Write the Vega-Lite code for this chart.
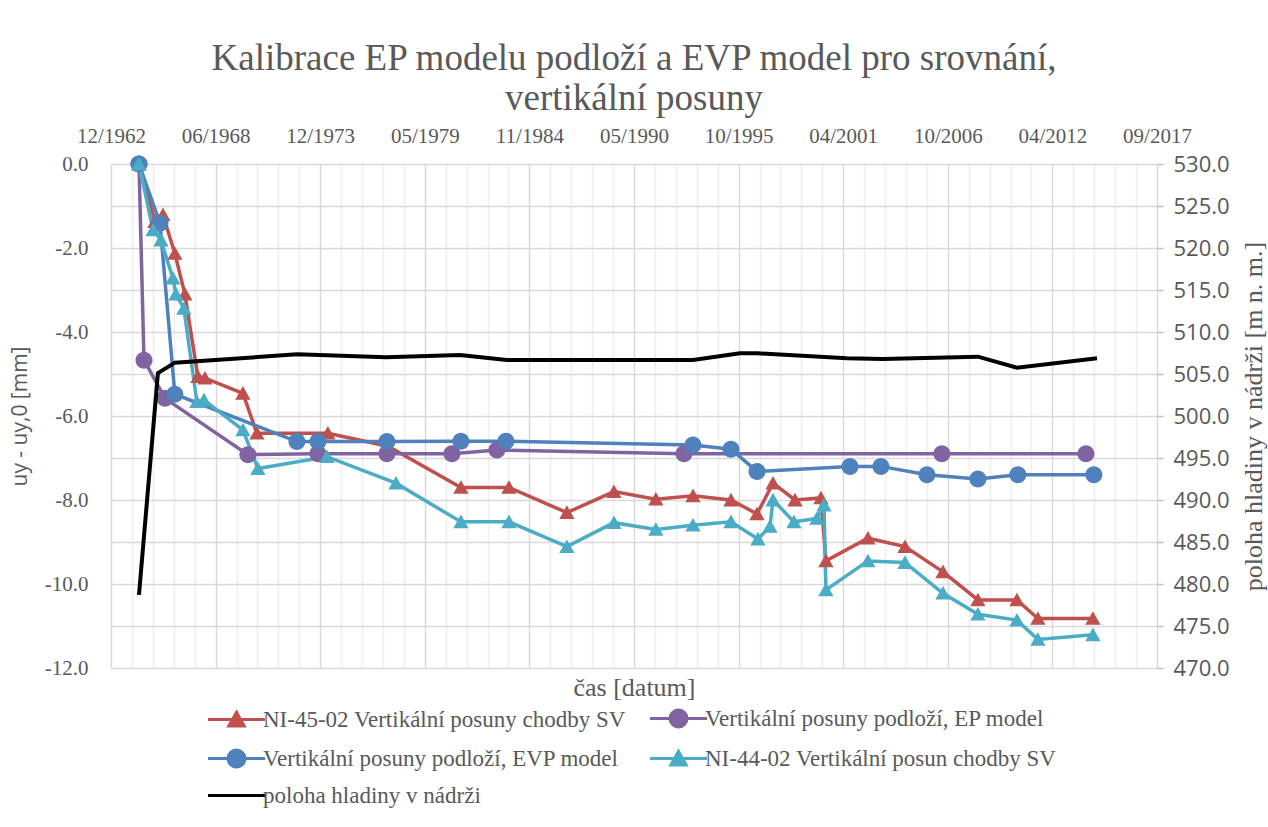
{
  "$schema": "https://vega.github.io/schema/vega-lite/v6.json",
  "width": 1046,
  "height": 504,
  "autosize": "none",
  "padding": {"left": 111, "top": 164, "right": 111, "bottom": 159},
  "background": "white",
  "title": {
    "text": ["Kalibrace EP modelu podloží a EVP model pro srovnání,", "vertikální posuny"],
    "font": "Liberation Serif",
    "fontSize": 37,
    "fontWeight": "normal",
    "color": "#595959",
    "anchor": "middle",
    "lineHeight": 40,
    "offset": 7
  },
  "config": {
    "view": {"stroke": null},
    "axis": {
      "labelFont": "Liberation Serif",
      "labelFontSize": 20,
      "labelColor": "#595959",
      "titleFont": "Liberation Serif",
      "titleFontSize": 26,
      "titleColor": "#595959",
      "titleFontWeight": "normal"
    }
  },
  "data": {
    "values": [
      {"series": "NI-45-02 Vertikální posuny chodby SV", "date": "1964-06-09", "value": 0},
      {"series": "NI-45-02 Vertikální posuny chodby SV", "date": "1965-04-10", "value": -1.37},
      {"series": "NI-45-02 Vertikální posuny chodby SV", "date": "1965-09-10", "value": -1.21},
      {"series": "NI-45-02 Vertikální posuny chodby SV", "date": "1966-04-26", "value": -2.13},
      {"series": "NI-45-02 Vertikální posuny chodby SV", "date": "1966-11-04", "value": -3.1},
      {"series": "NI-45-02 Vertikální posuny chodby SV", "date": "1967-07-10", "value": -5.06},
      {"series": "NI-45-02 Vertikální posuny chodby SV", "date": "1967-11-22", "value": -5.1},
      {"series": "NI-45-02 Vertikální posuny chodby SV", "date": "1969-11-17", "value": -5.46},
      {"series": "NI-45-02 Vertikální posuny chodby SV", "date": "1970-08-12", "value": -6.41},
      {"series": "NI-45-02 Vertikální posuny chodby SV", "date": "1974-04-30", "value": -6.41},
      {"series": "NI-45-02 Vertikální posuny chodby SV", "date": "1977-06-21", "value": -6.72},
      {"series": "NI-45-02 Vertikální posuny chodby SV", "date": "1981-04-17", "value": -7.7},
      {"series": "NI-45-02 Vertikální posuny chodby SV", "date": "1983-10-22", "value": -7.7},
      {"series": "NI-45-02 Vertikální posuny chodby SV", "date": "1986-11-03", "value": -8.3},
      {"series": "NI-45-02 Vertikální posuny chodby SV", "date": "1989-04-20", "value": -7.8},
      {"series": "NI-45-02 Vertikální posuny chodby SV", "date": "1991-07-01", "value": -7.98},
      {"series": "NI-45-02 Vertikální posuny chodby SV", "date": "1993-06-10", "value": -7.9},
      {"series": "NI-45-02 Vertikální posuny chodby SV", "date": "1995-06-06", "value": -8.0},
      {"series": "NI-45-02 Vertikální posuny chodby SV", "date": "1996-10-16", "value": -8.33},
      {"series": "NI-45-02 Vertikální posuny chodby SV", "date": "1997-08-18", "value": -7.6},
      {"series": "NI-45-02 Vertikální posuny chodby SV", "date": "1998-10-12", "value": -8.0},
      {"series": "NI-45-02 Vertikální posuny chodby SV", "date": "2000-02-20", "value": -7.95},
      {"series": "NI-45-02 Vertikální posuny chodby SV", "date": "2000-05-26", "value": -9.45},
      {"series": "NI-45-02 Vertikální posuny chodby SV", "date": "2002-08-07", "value": -8.91},
      {"series": "NI-45-02 Vertikální posuny chodby SV", "date": "2004-07-16", "value": -9.11},
      {"series": "NI-45-02 Vertikální posuny chodby SV", "date": "2006-07-12", "value": -9.71},
      {"series": "NI-45-02 Vertikální posuny chodby SV", "date": "2008-05-10", "value": -10.38},
      {"series": "NI-45-02 Vertikální posuny chodby SV", "date": "2010-05-26", "value": -10.38},
      {"series": "NI-45-02 Vertikální posuny chodby SV", "date": "2011-07-01", "value": -10.82},
      {"series": "NI-45-02 Vertikální posuny chodby SV", "date": "2014-05-18", "value": -10.82},

      {"series": "Vertikální posuny podloží, EP model", "date": "1964-06-09", "value": 0},
      {"series": "Vertikální posuny podloží, EP model", "date": "1964-09-13", "value": -4.67},
      {"series": "Vertikální posuny podloží, EP model", "date": "1965-10-19", "value": -5.58},
      {"series": "Vertikální posuny podloží, EP model", "date": "1970-02-21", "value": -6.92},
      {"series": "Vertikální posuny podloží, EP model", "date": "1973-10-22", "value": -6.9},
      {"series": "Vertikální posuny podloží, EP model", "date": "1977-06-02", "value": -6.9},
      {"series": "Vertikální posuny podloží, EP model", "date": "1980-10-27", "value": -6.9},
      {"series": "Vertikální posuny podloží, EP model", "date": "1983-03-07", "value": -6.81},
      {"series": "Vertikální posuny podloží, EP model", "date": "1992-12-19", "value": -6.9},
      {"series": "Vertikální posuny podloží, EP model", "date": "2006-06-21", "value": -6.9},
      {"series": "Vertikální posuny podloží, EP model", "date": "2014-01-05", "value": -6.9},

      {"series": "Vertikální posuny podloží, EVP model", "date": "1964-06-09", "value": 0},
      {"series": "Vertikální posuny podloží, EVP model", "date": "1965-07-15", "value": -1.41},
      {"series": "Vertikální posuny podloží, EVP model", "date": "1966-04-26", "value": -5.48},
      {"series": "Vertikální posuny podloží, EVP model", "date": "1972-09-15", "value": -6.61},
      {"series": "Vertikální posuny podloží, EVP model", "date": "1973-10-22", "value": -6.61},
      {"series": "Vertikální posuny podloží, EVP model", "date": "1977-06-02", "value": -6.61},
      {"series": "Vertikální posuny podloží, EVP model", "date": "1981-04-17", "value": -6.6},
      {"series": "Vertikální posuny podloží, EVP model", "date": "1983-08-25", "value": -6.6},
      {"series": "Vertikální posuny podloží, EVP model", "date": "1993-06-10", "value": -6.69},
      {"series": "Vertikální posuny podloží, EVP model", "date": "1995-06-06", "value": -6.79},
      {"series": "Vertikální posuny podloží, EVP model", "date": "1996-10-16", "value": -7.32},
      {"series": "Vertikální posuny podloží, EVP model", "date": "2001-08-29", "value": -7.2},
      {"series": "Vertikální posuny podloží, EVP model", "date": "2003-04-13", "value": -7.2},
      {"series": "Vertikální posuny podloží, EVP model", "date": "2005-09-09", "value": -7.4},
      {"series": "Vertikální posuny podloží, EVP model", "date": "2008-05-10", "value": -7.5},
      {"series": "Vertikální posuny podloží, EVP model", "date": "2010-06-13", "value": -7.4},
      {"series": "Vertikální posuny podloží, EVP model", "date": "2014-06-05", "value": -7.4},

      {"series": "NI-44-02 Vertikální posun chodby SV", "date": "1964-06-09", "value": 0},
      {"series": "NI-44-02 Vertikální posun chodby SV", "date": "1965-03-04", "value": -1.57},
      {"series": "NI-44-02 Vertikální posun chodby SV", "date": "1965-08-03", "value": -1.81},
      {"series": "NI-44-02 Vertikální posun chodby SV", "date": "1966-03-19", "value": -2.72},
      {"series": "NI-44-02 Vertikální posun chodby SV", "date": "1966-05-16", "value": -3.1},
      {"series": "NI-44-02 Vertikální posun chodby SV", "date": "1966-10-15", "value": -3.44},
      {"series": "NI-44-02 Vertikální posun chodby SV", "date": "1967-06-21", "value": -5.66},
      {"series": "NI-44-02 Vertikální posun chodby SV", "date": "1967-11-03", "value": -5.62},
      {"series": "NI-44-02 Vertikální posun chodby SV", "date": "1969-11-17", "value": -6.33},
      {"series": "NI-44-02 Vertikální posun chodby SV", "date": "1970-08-31", "value": -7.25},
      {"series": "NI-44-02 Vertikální posun chodby SV", "date": "1974-04-11", "value": -6.97},
      {"series": "NI-44-02 Vertikální posun chodby SV", "date": "1977-11-22", "value": -7.6},
      {"series": "NI-44-02 Vertikální posun chodby SV", "date": "1981-04-17", "value": -8.52},
      {"series": "NI-44-02 Vertikální posun chodby SV", "date": "1983-10-22", "value": -8.52},
      {"series": "NI-44-02 Vertikální posun chodby SV", "date": "1986-11-03", "value": -9.11},
      {"series": "NI-44-02 Vertikální posun chodby SV", "date": "1989-04-20", "value": -8.54},
      {"series": "NI-44-02 Vertikální posun chodby SV", "date": "1991-07-01", "value": -8.7},
      {"series": "NI-44-02 Vertikální posun chodby SV", "date": "1993-06-10", "value": -8.6},
      {"series": "NI-44-02 Vertikální posun chodby SV", "date": "1995-06-06", "value": -8.52},
      {"series": "NI-44-02 Vertikální posun chodby SV", "date": "1996-11-03", "value": -8.93},
      {"series": "NI-44-02 Vertikální posun chodby SV", "date": "1997-06-21", "value": -8.63},
      {"series": "NI-44-02 Vertikální posun chodby SV", "date": "1997-08-18", "value": -8.0},
      {"series": "NI-44-02 Vertikální posun chodby SV", "date": "1998-09-23", "value": -8.52},
      {"series": "NI-44-02 Vertikální posun chodby SV", "date": "1999-12-05", "value": -8.44},
      {"series": "NI-44-02 Vertikální posun chodby SV", "date": "2000-04-19", "value": -8.12},
      {"series": "NI-44-02 Vertikální posun chodby SV", "date": "2000-05-26", "value": -10.14},
      {"series": "NI-44-02 Vertikální posun chodby SV", "date": "2002-08-07", "value": -9.45},
      {"series": "NI-44-02 Vertikální posun chodby SV", "date": "2004-07-16", "value": -9.49},
      {"series": "NI-44-02 Vertikální posun chodby SV", "date": "2006-07-12", "value": -10.22},
      {"series": "NI-44-02 Vertikální posun chodby SV", "date": "2008-05-10", "value": -10.72},
      {"series": "NI-44-02 Vertikální posun chodby SV", "date": "2010-05-26", "value": -10.86},
      {"series": "NI-44-02 Vertikální posun chodby SV", "date": "2011-07-01", "value": -11.32},
      {"series": "NI-44-02 Vertikální posun chodby SV", "date": "2014-05-18", "value": -11.21},

      {"series": "poloha hladiny v nádrži", "date": "1964-06-09", "value": 478.7},
      {"series": "poloha hladiny v nádrži", "date": "1965-06-06", "value": 505.1},
      {"series": "poloha hladiny v nádrži", "date": "1966-04-26", "value": 506.35},
      {"series": "poloha hladiny v nádrži", "date": "1972-09-15", "value": 507.34},
      {"series": "poloha hladiny v nádrži", "date": "1977-05-15", "value": 507.0},
      {"series": "poloha hladiny v nádrži", "date": "1981-03-30", "value": 507.26},
      {"series": "poloha hladiny v nádrži", "date": "1983-09-13", "value": 506.67},
      {"series": "poloha hladiny v nádrži", "date": "1993-06-10", "value": 506.67},
      {"series": "poloha hladiny v nádrži", "date": "1995-11-24", "value": 507.46},
      {"series": "poloha hladiny v nádrži", "date": "1996-10-16", "value": 507.46},
      {"series": "poloha hladiny v nádrži", "date": "2001-07-01", "value": 506.87},
      {"series": "poloha hladiny v nádrži", "date": "2003-05-19", "value": 506.8},
      {"series": "poloha hladiny v nádrži", "date": "2008-05-10", "value": 507.06},
      {"series": "poloha hladiny v nádrži", "date": "2010-05-26", "value": 505.75},
      {"series": "poloha hladiny v nádrži", "date": "2014-08-04", "value": 506.87}
    ]
  },
  "layer": [
    {
      "transform": [{"filter": "datum.series !== 'poloha hladiny v nádrži'"}],
      "encoding": {
        "x": {
          "field": "date",
          "type": "temporal",
          "title": null,
          "scale": {"type": "utc", "domain": [-221788800000, 1506211200000], "nice": false},
          "axis": {
            "orient": "top",
            "values": [-221788800000, -48988800000, 123811200000, 296611200000, 469411200000, 642211200000, 815011200000, 987811200000, 1160611200000, 1333411200000, 1506211200000],
            "format": "%m/%Y",
            "labelFont": "Liberation Serif",
            "labelFontSize": 21,
            "labelColor": "#595959",
            "labelPadding": 18,
            "labelAlign": "center",
            "labelFlush": false,
            "labelOverlap": false,
            "ticks": false,
            "tickSize": 0,
            "domain": false,
            "grid": true,
            "gridColor": "#d9d9d9",
            "gridWidth": 1.5
          }
        },
        "y": {
          "field": "value",
          "type": "quantitative",
          "scale": {"domain": [-12, 0], "nice": false, "zero": false},
          "axis": {
            "orient": "left",
            "title": "uy - uy,0 [mm]",
            "titleFont": "Open Sans",
            "titleFontSize": 21,
            "titleFontWeight": "normal",
            "titleColor": "#595959",
            "titlePadding": 14,
            "values": [-12, -11, -10, -9, -8, -7, -6, -5, -4, -3, -2, -1, 0],
            "labelExpr": "datum.value % 2 === 0 ? (datum.value < 0 ? '-' : '') + format(abs(datum.value), '.1f') : ''",
            "labelFont": "Liberation Serif",
            "labelFontSize": 21,
            "labelColor": "#595959",
            "labelPadding": 23,
            "ticks": false,
            "tickSize": 0,
            "domain": false,
            "grid": true,
            "gridColor": "#d9d9d9",
            "gridWidth": 1.5
          }
        }
      },
      "layer": [
        {
          "mark": {"type": "line", "strokeWidth": 3.5},
          "encoding": {
            "color": {
              "field": "series",
              "type": "nominal",
              "scale": {
                "domain": ["NI-45-02 Vertikální posuny chodby SV", "Vertikální posuny podloží, EP model", "Vertikální posuny podloží, EVP model", "NI-44-02 Vertikální posun chodby SV", "poloha hladiny v nádrži"],
                "range": ["#C0504D", "#8064A2", "#4F81BD", "#4BACC6", "#000000"]
              },
              "legend": {
                "title": null,
                "orient": "none",
                "direction": "horizontal",
                "legendX": 94,
                "legendY": 543,
                "columns": 2,
                "columnPadding": 18,
                "rowPadding": 11,
                "padding": 0,
                "labelFont": "Liberation Serif",
                "labelFontSize": 23,
                "labelColor": "#595959",
                "labelLimit": 600,
                "symbolSize": 289,
                "symbolStrokeWidth": 3,
                "symbolOffset": 20,
                "labelOffset": 15,
                "encode": {
                  "symbols": {
                    "update": {
                      "fill": {"scale": "color", "field": "value"},
                      "stroke": {"scale": "color", "field": "value"},
                      "opacity": {"value": 1},
                      "strokeWidth": {"value": 3}
                    }
                  }
                }
              }
            }
          }
        },
        {
          "mark": {"type": "point", "filled": true, "size": 289, "opacity": 1, "strokeWidth": 0},
          "encoding": {
            "color": {"field": "series", "type": "nominal"},
            "shape": {
              "field": "series",
              "type": "nominal",
              "scale": {
                "domain": ["NI-45-02 Vertikální posuny chodby SV", "Vertikální posuny podloží, EP model", "Vertikální posuny podloží, EVP model", "NI-44-02 Vertikální posun chodby SV", "poloha hladiny v nádrži"],
                "range": [
                  "M-3.35,0H3.35M-0.9,0.75L0,-0.85L0.9,0.75Z",
                  "M-3.35,0H3.35M1,0A1,1,0,1,1,-1,0A1,1,0,1,1,1,0Z",
                  "M-3.35,0H3.35M1,0A1,1,0,1,1,-1,0A1,1,0,1,1,1,0Z",
                  "M-3.35,0H3.35M-0.9,0.75L0,-0.85L0.9,0.75Z",
                  "M-3.35,0H3.35"
                ]
              },
              "legend": {
                "title": null,
                "orient": "none",
                "direction": "horizontal",
                "legendX": 94,
                "legendY": 543,
                "columns": 2,
                "columnPadding": 18,
                "rowPadding": 11,
                "padding": 0,
                "labelFont": "Liberation Serif",
                "labelFontSize": 23,
                "labelColor": "#595959",
                "labelLimit": 600,
                "symbolSize": 289,
                "symbolStrokeWidth": 3,
                "symbolOffset": 20,
                "labelOffset": 15
              }
            }
          }
        }
      ]
    },
    {
      "transform": [{"filter": "datum.series === 'poloha hladiny v nádrži'"}],
      "mark": {"type": "line", "strokeWidth": 4},
      "encoding": {
        "x": {
          "field": "date",
          "type": "temporal",
          "axis": {
            "orient": "bottom",
            "title": "čas [datum]",
            "titleFont": "Liberation Serif",
            "titleFontSize": 26,
            "titleFontWeight": "normal",
            "titleColor": "#595959",
            "titlePadding": 6,
            "labels": false,
            "ticks": false,
            "tickSize": 0,
            "domain": false,
            "grid": true,
            "gridColor": "#eeeeee",
            "gridWidth": 1.5,
            "values": [-187228800000, -152668800000, -118108800000, -83548800000, -14428800000, 20131200000, 54691200000, 89251200000, 158371200000, 192931200000, 227491200000, 262051200000, 331171200000, 365731200000, 400291200000, 434851200000, 503971200000, 538531200000, 573091200000, 607651200000, 676771200000, 711331200000, 745891200000, 780451200000, 849571200000, 884131200000, 918691200000, 953251200000, 1022371200000, 1056931200000, 1091491200000, 1126051200000, 1195171200000, 1229731200000, 1264291200000, 1298851200000, 1367971200000, 1402531200000, 1437091200000, 1471651200000]
          }
        },
        "y": {
          "field": "value",
          "type": "quantitative",
          "scale": {"domain": [470, 530], "nice": false, "zero": false},
          "axis": {
            "orient": "right",
            "title": "poloha hladiny v nádrži [m n. m.]",
            "titleFont": "Liberation Serif",
            "titleFontSize": 26,
            "titleFontWeight": "normal",
            "titleColor": "#595959",
            "titleAngle": 270,
            "titlePadding": 37,
            "values": [470, 475, 480, 485, 490, 495, 500, 505, 510, 515, 520, 525, 530],
            "format": ".1f",
            "labelFont": "Open Sans",
            "labelFontSize": 22,
            "labelColor": "#595959",
            "labelPadding": 10,
            "ticks": true,
            "tickSize": 6,
            "tickColor": "#bfbfbf",
            "tickWidth": 1.5,
            "domain": false,
            "grid": false
          }
        },
        "color": {"field": "series", "type": "nominal"}
      }
    }
  ],
  "resolve": {
    "scale": {"y": "independent"},
    "axis": {"x": "independent", "y": "independent"}
  }
}
